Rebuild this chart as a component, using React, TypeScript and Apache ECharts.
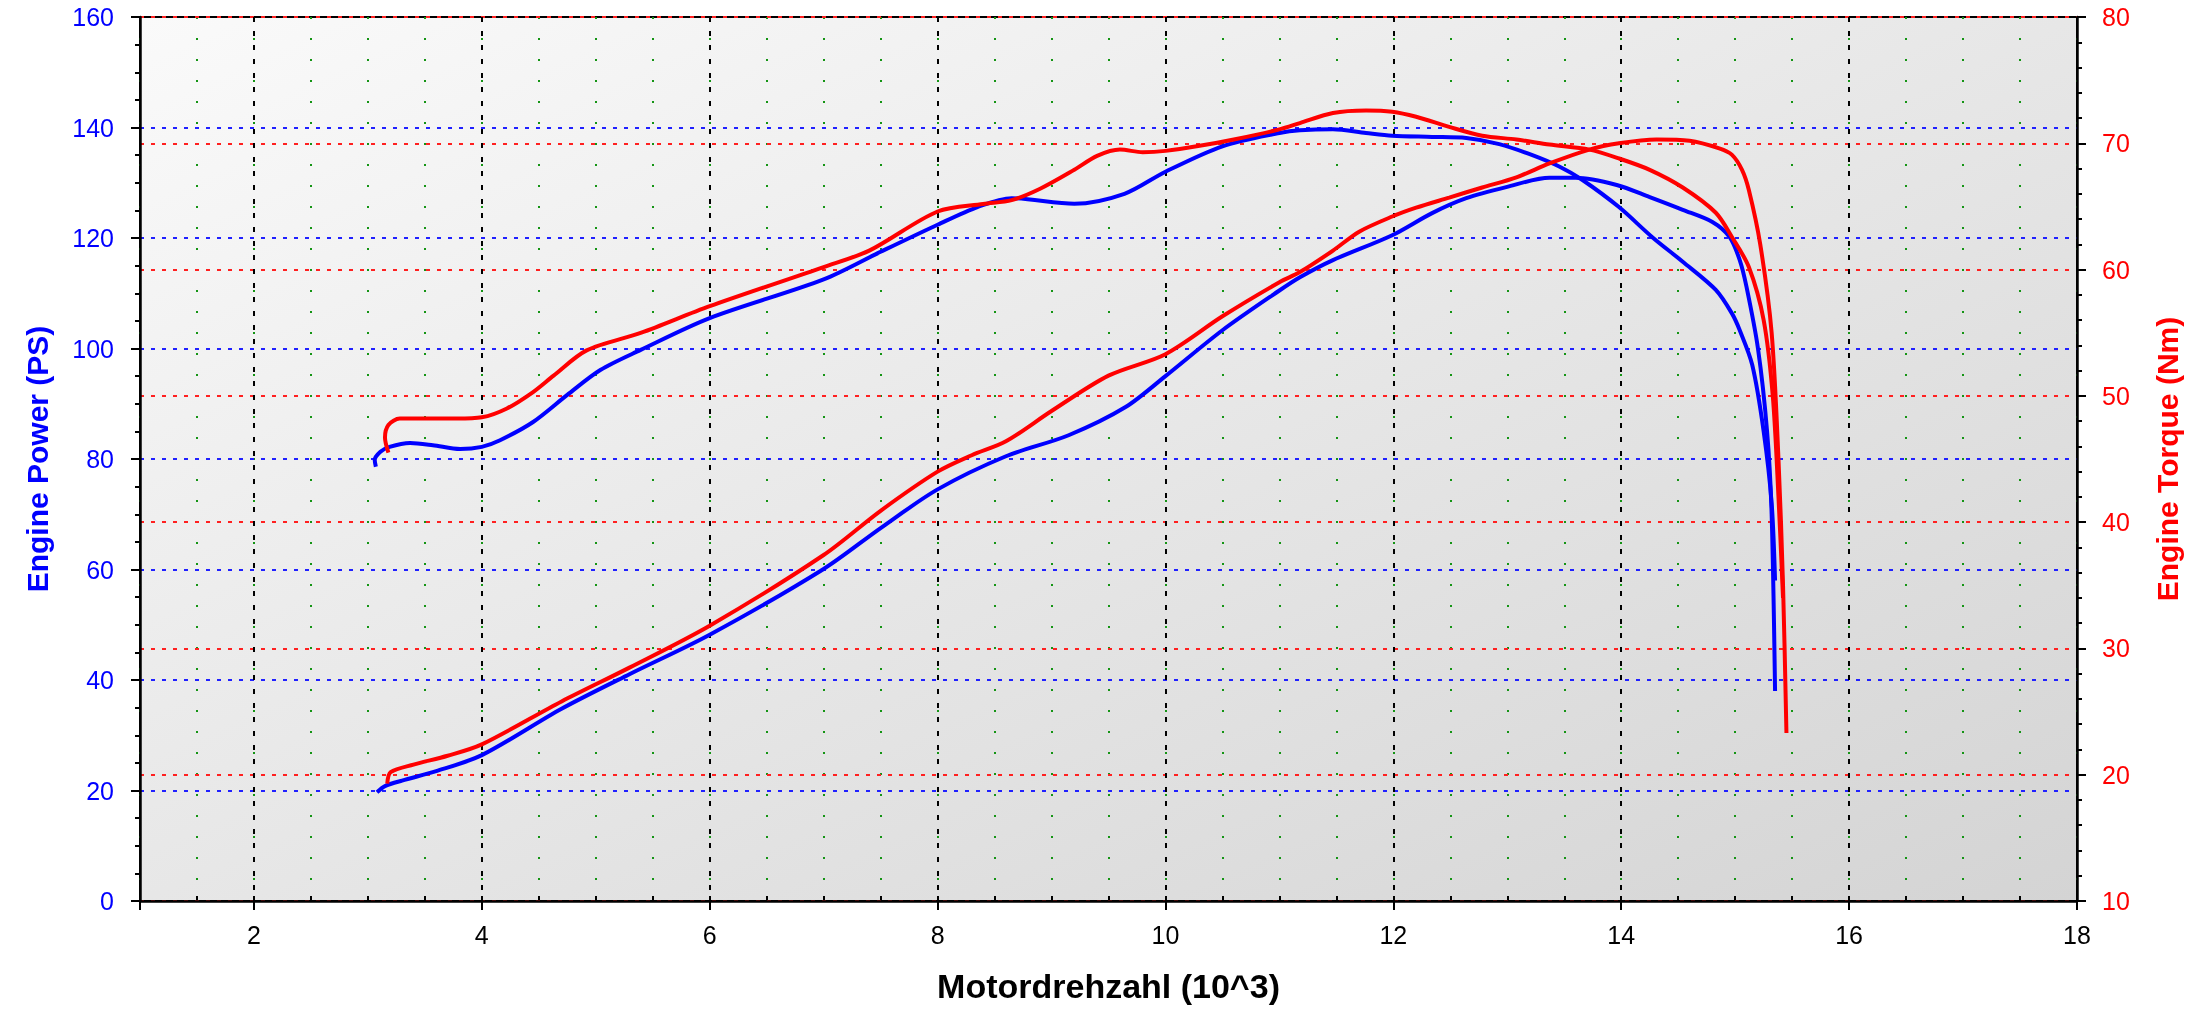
import React, { useEffect, useRef } from 'react';
import * as echarts from 'echarts';

// ---- Data (rpm in 10^3, power in PS, torque in Nm) ----
const rpmPowerRun1 = [3.07, 3.06, 3.11, 3.19, 3.37, 3.57, 3.81, 4.0, 4.16, 4.45, 4.75, 5.04, 5.39, 6.0, 7.0, 7.5, 8.0, 8.35, 8.65, 9.2, 9.64, 10.0, 10.5, 11.0, 11.18, 11.47, 11.76, 11.99, 12.34, 12.64, 12.93, 13.22, 13.46, 13.66, 13.98, 14.27, 14.54, 14.83, 14.97, 15.04, 15.15, 15.25, 15.32, 15.35];
const powerRun1 = [78.6, 79.8, 81.3, 82.2, 82.9, 82.5, 81.8, 82.2, 83.4, 86.7, 91.6, 96.1, 99.7, 105.5, 112.5, 117.5, 122.4, 125.6, 127.2, 126.2, 128.0, 132.0, 136.6, 139.0, 139.5, 139.7, 139.0, 138.5, 138.3, 138.1, 137.0, 135.0, 132.9, 130.5, 125.6, 120.2, 115.7, 110.6, 106.4, 103.3, 97.0, 85.0, 72.0, 58.0];

const rpmPowerRun2 = [3.08, 3.15, 3.3, 3.6, 4.0, 4.7, 5.3, 6.0, 7.0, 7.5, 8.0, 8.6, 9.15, 9.65, 10.0, 10.5, 11.0, 11.18, 11.47, 11.99, 12.34, 12.64, 12.99, 13.37, 13.6, 13.96, 14.25, 14.54, 14.8, 14.95, 15.04, 15.1, 15.2, 15.28, 15.32, 15.35];
const powerRun2 = [19.7, 20.8, 21.8, 23.5, 26.4, 34.8, 41.1, 48.2, 60.1, 67.5, 74.5, 80.5, 84.3, 89.4, 95.0, 103.3, 110.5, 112.9, 116.0, 120.5, 124.5, 127.2, 129.2, 130.9, 130.9, 129.6, 127.4, 125.1, 122.9, 120.2, 116.0, 111.1, 100.0, 85.0, 70.0, 38.0];

const rpmTorqueRun1 = [3.18, 3.15, 3.18, 3.28, 3.52, 3.78, 4.0, 4.22, 4.45, 4.63, 4.92, 5.4, 6.0, 7.0, 7.4, 8.0, 8.4, 8.65, 8.9, 9.2, 9.4, 9.6, 9.8, 10.0, 10.3, 10.6, 11.0, 11.18, 11.47, 11.76, 11.99, 12.2, 12.49, 12.78, 13.08, 13.37, 13.72, 13.98, 14.25, 14.54, 14.83, 14.97, 15.12, 15.25, 15.33, 15.38, 15.42];
const torqueRun1 = [45.5, 46.7, 47.7, 48.2, 48.2, 48.2, 48.3, 49.0, 50.3, 51.6, 53.6, 55.0, 57.1, 60.2, 61.5, 64.6, 65.2, 65.5, 66.4, 67.9, 69.0, 69.5, 69.3, 69.4, 69.8, 70.3, 71.1, 71.6, 72.4, 72.6, 72.5, 72.1, 71.3, 70.6, 70.3, 69.9, 69.5, 68.8, 67.9, 66.5, 64.5, 62.6, 60.2, 56.0, 50.0, 42.0, 34.0];

const rpmTorqueRun2 = [3.17, 3.2, 3.4, 3.7, 4.0, 4.7, 5.3, 6.0, 7.0, 7.5, 8.0, 8.3, 8.6, 9.0, 9.5, 10.0, 10.5, 11.0, 11.18, 11.47, 11.7, 11.99, 12.2, 12.49, 12.78, 13.08, 13.37, 13.72, 13.98, 14.31, 14.6, 14.86, 14.97, 15.06, 15.12, 15.22, 15.32, 15.38, 15.42, 15.45];
const torqueRun2 = [19.3, 20.2, 20.8, 21.5, 22.4, 25.8, 28.5, 31.8, 37.4, 40.9, 44.0, 45.3, 46.4, 48.8, 51.6, 53.3, 56.3, 59.0, 59.8, 61.5, 63.0, 64.2, 64.9, 65.7, 66.5, 67.3, 68.4, 69.5, 70.0, 70.3, 70.2, 69.6, 69.1, 67.9, 66.3, 62.0, 55.0, 45.0, 35.0, 23.3];

const xLabelTitle = 'Motordrehzahl (10^3)';
const leftTitle = 'Engine Power (PS)';
const rightTitle = 'Engine Torque (Nm)';

const zip = (xs: number[], ys: number[]) => xs.map((x, i) => [x, ys[i]]);

const FONT = '"Liberation Sans", Arial, sans-serif';

export default function App() {
  const ref = useRef<HTMLDivElement>(null);

  useEffect(() => {
    if (!ref.current) return;
    const chart = echarts.init(ref.current, null, { renderer: 'svg' });

    const lineSeries = (name: string, data: number[][], color: string, yAxisIndex: number) => ({
      name,
      type: 'line',
      xAxisIndex: 0,
      yAxisIndex,
      data,
      smooth: 0.3,
      showSymbol: false,
      symbol: 'none',
      z: 5,
      lineStyle: { color, width: 4 },
    });

    chart.setOption({
      animation: false,
      textStyle: { fontFamily: FONT },
      grid: {
        left: 140,
        right: 124,
        top: 17,
        bottom: 124,
        show: true,
        borderColor: '#000',
        borderWidth: 2,
        backgroundColor: new echarts.graphic.LinearGradient(0, 0, 1, 1, [
          { offset: 0, color: '#fafafa' },
          { offset: 1, color: '#d4d4d4' },
        ]),
      },
      xAxis: [
        {
          type: 'value',
          min: 1,
          max: 18,
          splitNumber: 8,
          position: 'bottom',
          z: 2,
          axisLine: { show: true, onZero: false, lineStyle: { color: '#000', width: 2.5 } },
          axisTick: { show: true, inside: false, length: 9, lineStyle: { color: '#000', width: 2 } },
          axisLabel: {
            color: '#000',
            fontSize: 25,
            fontFamily: FONT,
            margin: 21,
            formatter: (v: number) => (v % 2 === 0 ? String(v) : ''),
          },
          splitLine: { show: true, lineStyle: { color: '#000', width: 2, type: [5, 9] } },
          name: xLabelTitle,
          nameLocation: 'middle',
          nameGap: 68,
          nameTextStyle: { color: '#000', fontSize: 34, fontWeight: 'bold', fontFamily: FONT },
        },
        {
          type: 'value',
          min: 1,
          max: 18,
          interval: 0.5,
          position: 'bottom',
          z: 1,
          axisLine: { show: false, onZero: false },
          axisTick: { show: true, inside: true, length: 5, lineStyle: { color: '#000', width: 2 } },
          axisLabel: { show: false },
          splitLine: { show: true, lineStyle: { color: '#149414', width: 2, type: [2, 19] } },
        },
      ],
      yAxis: [
        {
          type: 'value',
          min: 0,
          max: 160,
          interval: 20,
          position: 'left',
          z: 2,
          axisLine: { show: true, onZero: false, lineStyle: { color: '#000', width: 2.5 } },
          axisTick: { show: true, length: 9, lineStyle: { color: '#000', width: 2 } },
          minorTick: { show: true, splitNumber: 4, length: 5, lineStyle: { color: '#000', width: 2 } },
          axisLabel: { color: '#0000ff', fontSize: 25, fontFamily: FONT, margin: 26 },
          splitLine: { show: true, lineStyle: { color: '#2020ff', width: 2, type: [4, 7] } },
          name: leftTitle,
          nameLocation: 'middle',
          nameGap: 88,
          nameTextStyle: { color: '#0000ff', fontSize: 30, fontWeight: 'bold', fontFamily: FONT },
        },
        {
          type: 'value',
          min: 10,
          max: 80,
          interval: 10,
          position: 'right',
          z: 2,
          axisLine: { show: true, onZero: false, lineStyle: { color: '#000', width: 2.5 } },
          axisTick: { show: true, length: 9, lineStyle: { color: '#000', width: 2 } },
          minorTick: { show: true, splitNumber: 5, length: 5, lineStyle: { color: '#000', width: 2 } },
          axisLabel: { color: '#ff0000', fontSize: 25, fontFamily: FONT, margin: 25 },
          splitLine: { show: true, lineStyle: { color: '#ff2020', width: 2, type: [4, 7] } },
          name: rightTitle,
          nameLocation: 'middle',
          nameGap: 75,
          nameTextStyle: { color: '#ff0000', fontSize: 30, fontWeight: 'bold', fontFamily: FONT },
        },
      ],
      series: [
        lineSeries('Power Run 1', zip(rpmPowerRun1, powerRun1), '#0000ff', 0),
        lineSeries('Power Run 2', zip(rpmPowerRun2, powerRun2), '#0000ff', 0),
        lineSeries('Torque Run 1', zip(rpmTorqueRun1, torqueRun1), '#ff0000', 1),
        lineSeries('Torque Run 2', zip(rpmTorqueRun2, torqueRun2), '#ff0000', 1),
      ],
    });

    return () => chart.dispose();
  }, []);

  return (
    <div
      ref={ref}
      style={{ position: 'fixed', left: 0, top: 0, width: '2201px', height: '1025px' }}
    />
  );
}
